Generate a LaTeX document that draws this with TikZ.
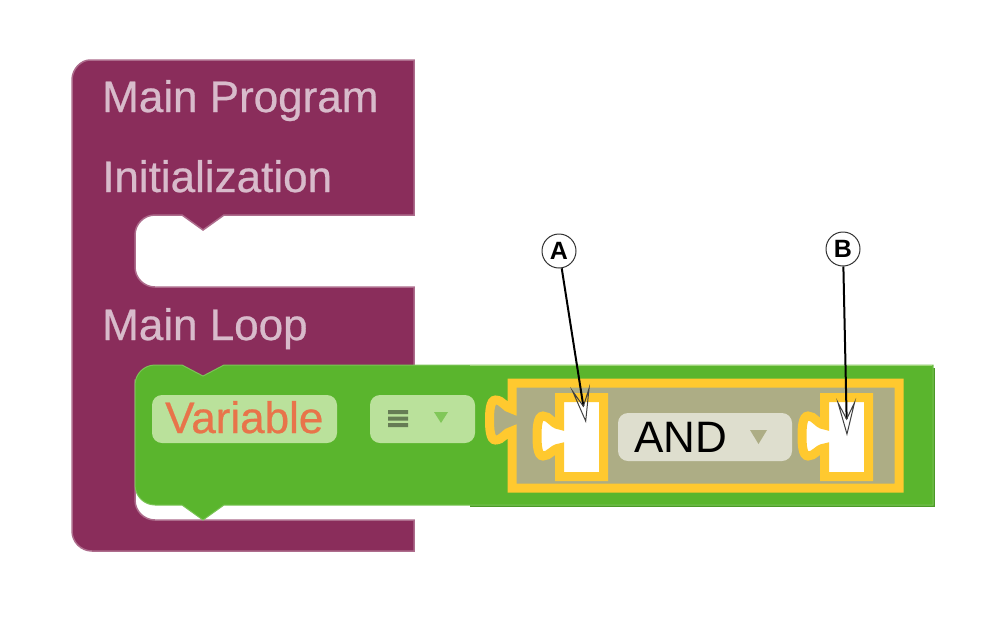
\documentclass[tikz,border=0pt]{standalone}
\usepackage{fontspec}
\setmainfont{Liberation Sans}
\newfontfamily\blockfont[FakeBold=0.6]{Liberation Sans}
\usetikzlibrary{arrows.meta}
\definecolor{loopred}{HTML}{8A2D5B}
\definecolor{blockgreen}{HTML}{5AB52D}
\definecolor{darkgreen}{HTML}{4B9A26}
\definecolor{lightgreen}{HTML}{A0D57A}
\definecolor{pillgreen}{HTML}{BAE19B}
\definecolor{andgold}{HTML}{FFC92F}
\definecolor{andtan}{HTML}{ADAD85}
\definecolor{andpill}{HTML}{DEDECE}
\definecolor{looptext}{HTML}{D8BBCB}
\definecolor{varorange}{HTML}{E8744A}

\begin{document}
\begin{tikzpicture}[x=1pt, y=-1pt,
    every node/.style={font=\fontsize{44}{50}\selectfont, inner sep=0pt},
    looplabel/.style={anchor=base west, text=looptext, font=\fontsize{44}{50}\blockfont},
    pill/.style={rounded corners=10pt, minimum height=48pt},
    callout/.style={circle, draw=black!80, fill=white, line width=1pt, minimum size=34pt, font=\fontsize{25}{30}\selectfont\bfseries},
    pointer/.style={line width=2pt, -{Stealth[open, fill=none, color=black!75, line width=1pt, length=38pt, width=20pt, inset=20pt]}},
    slotedge/.style={line width=9pt, draw=andgold, miter limit=10}]
    \useasboundingbox (0,0) rectangle (1000,622);
    \fill[white] (0,0) rectangle (1000,622);

    \filldraw[fill=loopred, draw=loopred!70, line width=1.5pt] (90,60) -- (414,60) -- (414,215) -- (224,215) -- (203,230) -- (182,215)
        -- (155,215) .. controls (144,215) and (135,224) .. (135,235) -- (135,267) .. controls (135,278) and (144,287) .. (155,287)
        -- (414,287) -- (414,380) -- (135,380) -- (135,500) .. controls (135,511) and (144,520) .. (155,520) -- (414,520) -- (414,551)
        -- (92,551) .. controls (81,551) and (72,542) .. (72,531) -- (72,80) .. controls (72,69) and (81,60) .. (90,60) -- cycle;

    \fill[darkgreen] (470,368) rectangle (935,507);
    \filldraw[fill=blockgreen, draw=blockgreen!80, line width=1pt] (155,365) -- (182,365) -- (203,376) -- (224,365) -- (933,365) -- (933,505)
        -- (224,505) -- (203,520) -- (182,505) -- (155,505) .. controls (144,505) and (135,496) .. (135,485) -- (135,385)
        .. controls (135,374) and (144,365) .. (155,365) -- cycle;
    \draw[lightgreen, line width=1.5pt] (470,365.5) -- (932,365.5);

    \node[looplabel] (program) at (102,112) {Main Program};
    \node[looplabel] (init) at (102,192) {Initialization};
    \node[looplabel] (loop) at (102,340) {Main Loop};

    \node[pill, fill=pillgreen, minimum width=185pt] (varpill) at (244.5,419) {};
    \node[looplabel, text=varorange] (varname) at (165,433) {Variable};
    \node[pill, fill=pillgreen, minimum width=105pt] (listpill) at (422.5,419) {};
    \fill[black!45!pillgreen] (388,410) rectangle (408,414) (388,416.5) rectangle (408,420.5) (388,423) rectangle (408,427);
    \fill[blockgreen!60!pillgreen] (434,412) -- (448,412) -- (441,423) -- cycle;

    \filldraw[fill=andtan, slotedge] (512,383) -- (899,383) -- (899,488) -- (512,488) -- (512,431)
        .. controls (505,432) and (503,440) .. (495.5,440) .. controls (490,440) and (489.5,428) .. (489.5,420)
        .. controls (489.5,412) and (490,400) .. (495.5,400) .. controls (503,400) and (505,408) .. (512,409) -- cycle;

    \foreach \dx in {0,265} {
        \filldraw[fill=white, slotedge, xshift=\dx pt] (559.5,397.5) -- (603.5,397.5) -- (603.5,476.5) -- (559.5,476.5) -- (559.5,448)
            .. controls (552,449) and (550,456) .. (543,456) .. controls (537.5,456) and (537,444) .. (537,436)
            .. controls (537,428) and (537.5,416) .. (543,416) .. controls (550,416) and (552,424) .. (559.5,425) -- cycle;
    }

    \node[pill, fill=andpill, minimum width=174pt] (andpill) at (705,437) {};
    \node[anchor=base west] (andname) at (634,452) {AND};
    \fill[andtan] (750,430) -- (767,430) -- (758.5,444) -- cycle;

    \node[callout] (labela) at (559,251) {A};
    \node[callout] (labelb) at (843,249) {B};
    \coordinate (slota) at (586,423);
    \coordinate (slotb) at (847,436);
    \draw[pointer] (labela) -- (slota);
    \draw[pointer] (labelb) -- (slotb);
\end{tikzpicture}
\end{document}
